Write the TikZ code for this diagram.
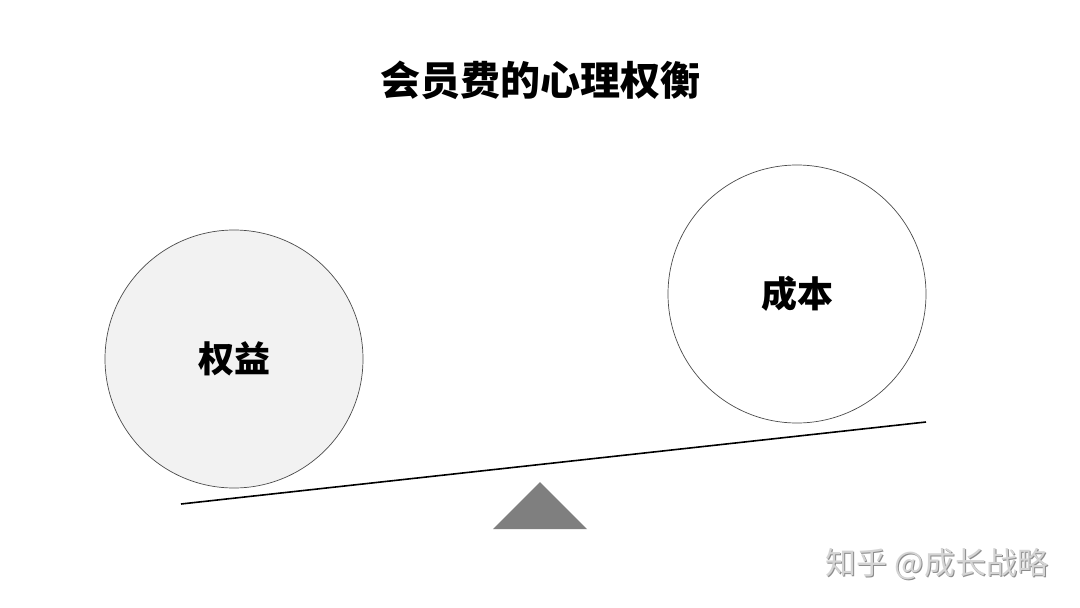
\documentclass[tikz,border=0pt]{standalone}
\usepackage{fontspec}
\newfontfamily\cjk{Noto Sans CJK SC}
\definecolor{lightfill}{HTML}{F2F2F2}
\definecolor{tri}{HTML}{7F7F7F}
\definecolor{wm}{HTML}{D4D4D4}
\begin{document}
\begin{tikzpicture}[x=1pt,y=-1pt,
  ball/.style={circle,draw=black!70,line width=0.7pt,minimum size=258pt,inner sep=0pt},
  lab/.style={font=\cjk\bfseries\fontsize{36}{42}\selectfont},
  wmtext/.style={font=\cjk\fontsize{31}{36}\selectfont},
  beam/.style={line width=1.6pt,black}]
\useasboundingbox (0,0) rectangle (1080,608);
\fill[white] (0,0) rectangle (1080,608);
\node[font=\cjk\bfseries\fontsize{40}{46}\selectfont] (title) at (540,80) {会员费的心理权衡};
\node[ball,fill=lightfill] (benefit) at (234,359) {};
\node[lab] (benefitlab) at (benefit.center) {权益};
\node[ball,fill=white] (cost) at (797,294) {};
\node[lab] (costlab) at (cost.center) {成本};
\coordinate (beamL) at (181,504);
\coordinate (beamR) at (926,422);
\draw[beam] (beamL) -- (beamR);
\fill[tri] (540,482) -- (587,529) -- (493,529) -- cycle;
\node[wmtext,text=black!45] (wmshadow) at (938,565) {知乎 @成长战略};
\node[wmtext,text=wm] (wmark) at (937,564) {知乎 @成长战略};
\end{tikzpicture}
\end{document}
